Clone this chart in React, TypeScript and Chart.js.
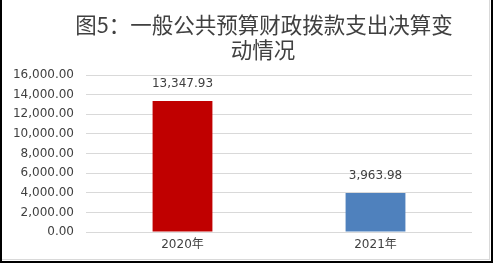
import React, { useEffect, useRef } from "react";
import { Chart, registerables } from "chart.js";

Chart.register(...registerables);

const categories = ["2020年", "2021年"];
const values = [13347.93, 3963.98];
const barColors = ["#C00000", "#4F81BD"];
const titleLines = ["图5：一般公共预算财政拨款支出决算变", "动情况"];
const yMin = 0;
const yMax = 16000;
const yStep = 2000;

const fmt = (v: number) =>
  v.toLocaleString("en-US", { minimumFractionDigits: 2, maximumFractionDigits: 2 });

const FONT = "'DejaVu Sans', 'Noto Sans CJK SC', sans-serif";

const titlePlugin = {
  id: "customTitle",
  afterDraw(chart: any) {
    const ctx = chart.ctx;
    ctx.save();
    ctx.fillStyle = "#404040";
    ctx.font = "21.5px 'Noto Sans CJK SC', sans-serif";
    ctx.textAlign = "center";
    ctx.textBaseline = "middle";
    ctx.fillText(titleLines[0], 264, 25);
    ctx.fillText(titleLines[1], 263, 50);
    ctx.restore();
  },
};

const labelPlugin = {
  id: "barLabels",
  afterDatasetsDraw(chart: any) {
    const ctx = chart.ctx;
    const meta = chart.getDatasetMeta(0);
    ctx.save();
    ctx.fillStyle = "#404040";
    ctx.font = "12px " + FONT;
    ctx.textAlign = "center";
    ctx.textBaseline = "middle";
    meta.data.forEach((bar: any, i: number) => {
      ctx.fillText(fmt(values[i]), bar.x, bar.y - 17);
    });
    ctx.restore();
  },
};

export default function App() {
  const ref = useRef<HTMLCanvasElement | null>(null);
  useEffect(() => {
    if (!ref.current) return;
    const chart = new Chart(ref.current, {
      type: "bar",
      data: {
        labels: categories,
        datasets: [
          {
            data: values,
            backgroundColor: barColors,
            borderWidth: 0,
            barPercentage: 0.31,
            categoryPercentage: 1,
          },
        ],
      },
      options: {
        animation: false,
        responsive: false,
        maintainAspectRatio: false,
        layout: { padding: { top: 75, right: 21, bottom: 0, left: 0 } },
        plugins: {
          legend: { display: false },
          title: { display: false },
          tooltip: { enabled: false },
        },
        scales: {
          x: {
            grid: { display: false, drawTicks: false },
            border: { display: false },
            ticks: {
              color: "#404040",
              font: { size: 12, family: FONT },
              padding: 6,
            },
            afterFit: (s: any) => {
              s.height = 31;
            },
          },
          y: {
            min: yMin,
            max: yMax,
            grid: { color: "#d9d9d9", lineWidth: 1, drawTicks: false },
            border: { display: false },
            ticks: {
              stepSize: yStep,
              color: "#404040",
              font: { size: 12, family: FONT },
              padding: 12,
              callback: (v: any) => fmt(Number(v)),
            },
            afterFit: (s: any) => {
              s.width = 86;
            },
          },
        },
      },
      plugins: [titlePlugin, labelPlugin],
    });
    return () => chart.destroy();
  }, []);

  return (
    <div style={{ position: "fixed", left: 0, top: 0, width: 493, height: 263, background: "#fff" }}>
      <canvas ref={ref} width={493} height={263} style={{ position: "absolute", left: 0, top: 0, width: 493, height: 263 }} />
      <div
        style={{
          position: "absolute",
          left: 0,
          top: 0,
          width: 490,
          height: 260,
          boxSizing: "border-box",
          borderRight: "1px solid #d9d9d9",
          borderBottom: "1px solid #d9d9d9",
          pointerEvents: "none",
        }}
      />
      <div
        style={{
          position: "absolute",
          left: 0,
          top: 0,
          width: 493,
          height: 263,
          boxSizing: "border-box",
          borderLeft: "2px solid #000",
          borderRight: "2px solid #000",
          borderBottom: "2px solid #000",
          pointerEvents: "none",
        }}
      />
    </div>
  );
}
